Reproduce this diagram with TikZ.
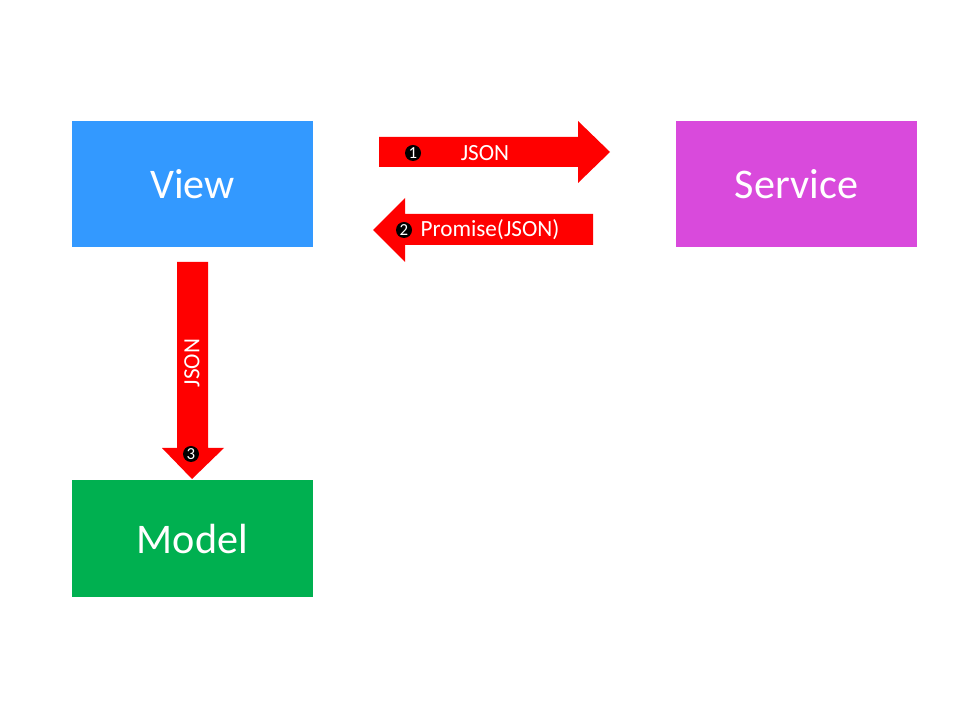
\documentclass[tikz,border=0pt]{standalone}
\usepackage{fontspec}
\setmainfont{Carlito}

\definecolor{viewblue}{HTML}{3399FF}
\definecolor{servicepink}{HTML}{D94ADC}
\definecolor{modelgreen}{HTML}{00B050}
\definecolor{arrowred}{HTML}{FF0000}

\tikzset{
  box/.style={inner sep=0pt, minimum width=6.025cm, text=white,
    font=\fontsize{30}{36}\selectfont},
  arrowtext/.style={inner sep=0pt, text=white, font=\fontsize{16.5}{20}\selectfont},
  num/.style={circle, fill=black, inner sep=0pt, minimum size=0.4cm, text=white,
    font=\fontsize{12}{13}\selectfont}
}

\begin{document}
\begin{tikzpicture}[x=0.025cm, y=-0.025cm]

\useasboundingbox (0,0) rectangle (960,720);

\node[box, fill=viewblue, minimum height=3.15cm] (view) at (192.5,184) {View};
\node[box, fill=servicepink, minimum height=3.15cm] (service) at (796.5,184) {Service};
\node[box, fill=modelgreen, minimum height=2.925cm] (model) at (192.5,538.5) {Model};

\fill[arrowred] (379,137) -- (578,137) -- (578,121) -- (610,152) -- (578,183) -- (578,167) -- (379,167) -- cycle;
\fill[arrowred] (593,214) -- (405,214) -- (405,198) -- (373,230) -- (405,262) -- (405,245) -- (593,245) -- cycle;
\fill[arrowred] (177,262) -- (208,262) -- (208,448) -- (224,448) -- (192,479) -- (162,448) -- (177,448) -- cycle;

\node[arrowtext] (json1) at (485,153) {JSON};
\node[num] (n1) at (413,153) {1};
\node[arrowtext] (promise) at (490,230) {Promise(JSON)};
\node[num] (n2) at (404,230) {2};
\node[arrowtext, rotate=90] (json3) at (192,363) {JSON};
\node[num] (n3) at (191,454) {3};

\end{tikzpicture}
\end{document}
